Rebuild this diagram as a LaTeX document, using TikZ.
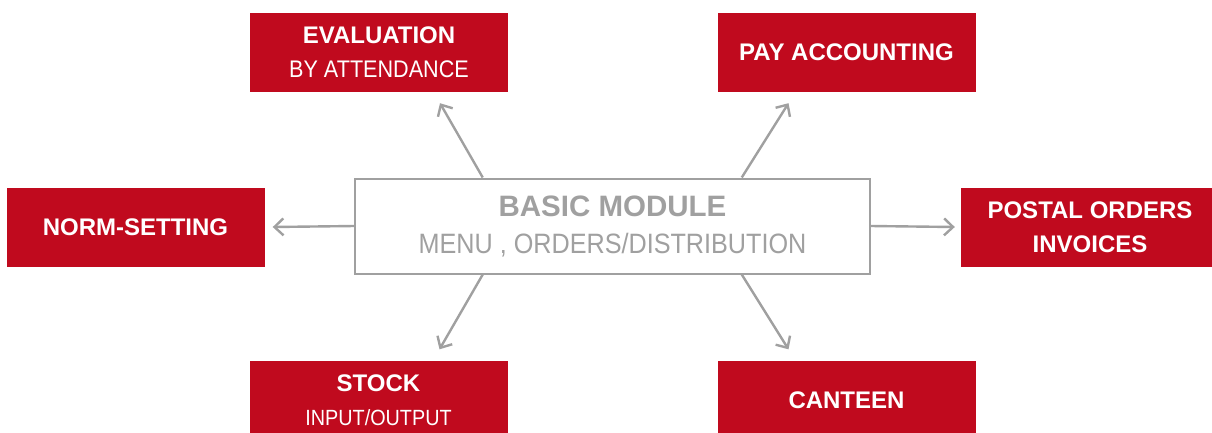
\documentclass[tikz,border=0pt]{standalone}
\usepackage{fontspec}
\setmainfont{Liberation Sans}
\newfontfamily\narrowfont[FakeStretch=0.9]{Liberation Sans}
\usetikzlibrary{arrows.meta,calc}
\definecolor{boxred}{RGB}{192,10,30}
\definecolor{linegray}{RGB}{160,160,160}
\definecolor{textgray}{RGB}{160,160,160}
\begin{document}
\begin{tikzpicture}[x=1pt,y=-1pt,
  redbox/.style={fill=boxred,draw=none,text=white,minimum width=258pt,minimum height=79pt,
    inner sep=0pt,align=center,font=\fontsize{24}{34}\selectfont\bfseries},
  mainbox/.style={draw=linegray,line width=2pt,fill=white,text=textgray,minimum width=515pt,
    minimum height=95pt,inner sep=0pt,align=center,font=\fontsize{29.5}{37}\selectfont\bfseries},
  arr/.style={draw=linegray,line width=2.4pt,-{Straight Barb[length=9pt,width=17pt]}}]
\useasboundingbox (0,0) rectangle (1212,432);
\node[mainbox] (center) at (612.5,226) {\raisebox{-3pt}{BASIC MODULE}\\\fontsize{28}{37}\selectfont\narrowfont\mdseries \raisebox{-3pt}{MENU , ORDERS/DISTRIBUTION}};
\node[redbox] (eval) at (379,52.5) {EVALUATION\\\narrowfont\mdseries BY ATTENDANCE};
\node[redbox] (pay) at (846.5,52.5) {PAY ACCOUNTING};
\node[redbox] (norm) at (135.5,227) {NORM-SETTING};
\node[redbox] (postal) at (1090,227) {POSTAL ORDERS\\INVOICES};
\node[redbox] (stock) at (378.5,400) {STOCK\\\fontsize{22}{34}\selectfont\narrowfont\mdseries INPUT/OUTPUT};
\node[redbox] (canteen) at (846.5,400) {CANTEEN};
\draw[arr] ($(center.north west)!0.249!(center.north east)$) -- ($(eval.south)+(61,11)$);
\draw[arr] ($(center.north west)!0.75!(center.north east)$) -- ($(pay.south)+(-58,11)$);
\draw[arr] ($(center.south west)!0.249!(center.south east)$) -- ($(stock.north)+(61,-11)$);
\draw[arr] ($(center.south west)!0.75!(center.south east)$) -- ($(canteen.north)+(-58,-11)$);
\draw[arr] (center.west) -- ($(norm.east)+(8,0)$);
\draw[arr] (center.east) -- ($(postal.west)+(-6,0)$);
\end{tikzpicture}
\end{document}
